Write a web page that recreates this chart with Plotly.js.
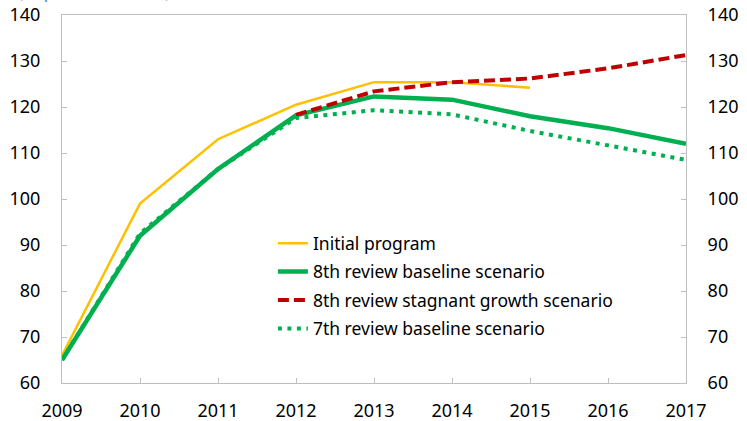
<!DOCTYPE html>
<html><head><meta charset="utf-8">
<script src="https://cdn.plot.ly/plotly-3.0.1.min.js"></script>
<style>html,body{margin:0;padding:0;background:#fff}#chart{width:747px;height:421px}</style>
</head><body><div id="chart"></div>
<script>
const years = [2009, 2010, 2011, 2012, 2013, 2014, 2015, 2016, 2017];
const initialProgram = [66, 99, 113, 120.5, 125.4, 125.4, 124.2, null, null];
const review8Baseline = [65, 92, 106.5, 118.2, 122.3, 121.6, 118, 115.4, 112];
const review8Stagnant = [null, null, null, 118.3, 123.4, 125.4, 126.2, 128.4, 131.3];
const review7Baseline = [65, 92.5, 106.5, 117.6, 119.3, 118.4, 114.8, 111.7, 108.5];
const seriesNames = ["Initial program", "8th review baseline scenario", "8th review stagnant growth scenario", "7th review baseline scenario"];
const yTicks = [60, 70, 80, 90, 100, 110, 120, 130, 140];

const fam = "Noto Sans, Open Sans, sans-serif";
const font = {family: fam, size: 18, color: "#000"};
const legFont = {family: fam, size: 17.5, color: "#000"};
const traces = [
  {x: years, y: initialProgram, name: seriesNames[0], legend: "legend", mode: "lines", line: {color: "#FFC000", width: 2.5}},
  {x: years, y: review8Baseline, name: seriesNames[1], legend: "legend2", mode: "lines", line: {color: "#00B050", width: 4.5}},
  {x: years, y: review8Stagnant, name: seriesNames[2], legend: "legend3", mode: "lines", line: {color: "#C00000", width: 4, dash: "11px,5px"}},
  {x: years, y: review7Baseline, name: seriesNames[3], legend: "legend4", mode: "lines", line: {color: "#00B050", width: 4, dash: "4px,5.5px"}},
  {x: years, y: review8Baseline, yaxis: "y2", showlegend: false, mode: "lines", line: {width: 0}, hoverinfo: "skip", opacity: 0}
];
function leg(yc) {
  return {x: 0.338, y: yc, xanchor: "left", yanchor: "middle", bgcolor: "rgba(0,0,0,0)",
          font: legFont, itemwidth: 30, borderwidth: 0};
}
const layout = {
  width: 747, height: 421,
  margin: {l: 62, r: 61, t: 15, b: 38},
  paper_bgcolor: "#fff", plot_bgcolor: "#fff",
  font: font,
  showlegend: true,
  legend: leg(0.3796), legend2: leg(0.3024), legend3: leg(0.2255), legend4: leg(0.148),
  xaxis: {range: [2009, 2017], tickvals: years, ticktext: years.map(String), showgrid: false, zeroline: false,
          showline: true, linecolor: "#BFBFBF", linewidth: 1, mirror: true,
          ticks: "inside", ticklen: 5, tickcolor: "#BFBFBF", tickfont: font, ticklabelstandoff: 11},
  yaxis: {range: [60, 140], tickvals: yTicks, showgrid: false, zeroline: false,
          showline: true, linecolor: "#BFBFBF", linewidth: 1,
          ticks: "inside", ticklen: 5, tickcolor: "#BFBFBF", tickfont: font, ticklabelstandoff: 17},
  yaxis2: {range: [60, 140], tickvals: yTicks, overlaying: "y", side: "right", showgrid: false, zeroline: false,
           showline: true, linecolor: "#BFBFBF", linewidth: 1,
           ticks: "inside", ticklen: 5, tickcolor: "#BFBFBF", tickfont: font, ticklabelstandoff: 17},
  annotations: [{text: "(In percent of GDP)", xref: "paper", yref: "paper", x: -0.0737, y: 1.027, xanchor: "left", yanchor: "bottom",
                 showarrow: false, font: {family: fam, size: 17, color: "#4F81BD"}}]
};
Plotly.newPlot("chart", traces, layout, {displayModeBar: false, staticPlot: true});
</script></body></html>
